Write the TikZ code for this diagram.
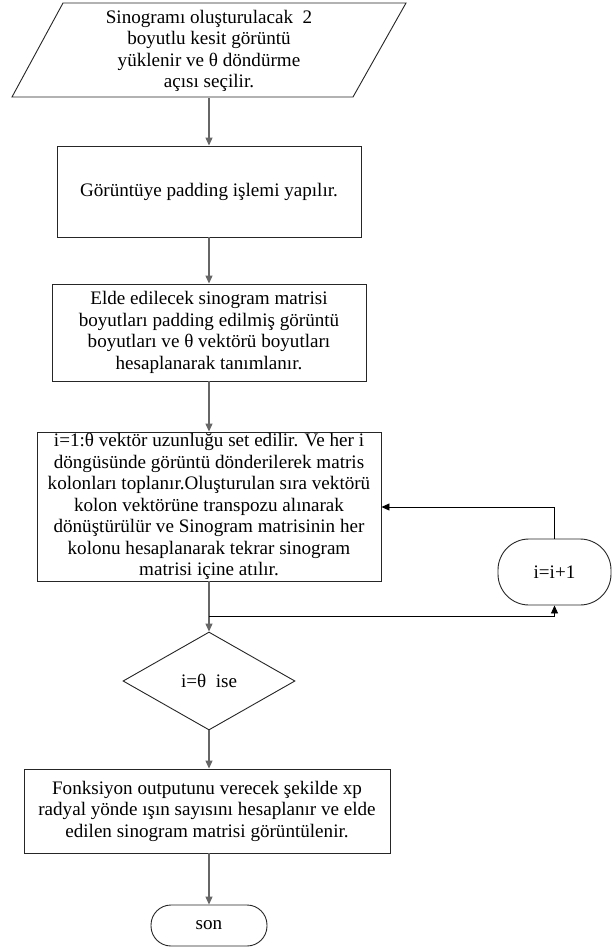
\documentclass[tikz,border=0pt]{standalone}
\usepackage{fontspec}
\setmainfont{Liberation Serif}
\usetikzlibrary{shapes.geometric,arrows.meta,calc}
\begin{document}
\begin{tikzpicture}[x=1pt,y=-1pt,
  txt/.style={font=\fontsize{19.1}{21.5}\selectfont, align=center, inner sep=0pt, text=black},
  procbox/.style={txt, draw=black!85, line width=0.9pt, rectangle},
  decbox/.style={txt, draw=black!85, line width=0.9pt, diamond},
  termbox/.style={txt, draw=black!85, line width=0.9pt, rectangle},
  flow/.style={draw=black!60, line width=1.1pt, -{Triangle[length=8pt,width=7pt]}},
  looparrow/.style={draw=black, line width=0.9pt, -{Triangle[length=8pt,width=7pt]}}]
\useasboundingbox (0,0) rectangle (612,951);
\fill[white] (0,0) rectangle (612,951);

% input parallelogram
\draw[draw=black!85, line width=0.9pt] (63,3) -- (406,3) -- (353,97) -- (12,97) -- cycle;
\node[txt, minimum width=290, minimum height=94] (b1) at (209,51)
  {Sinogramı oluşturulacak\ \ 2\\boyutlu kesit görüntü\\yüklenir ve θ döndürme\\açısı seçilir.};

\node[procbox, minimum width=304, minimum height=91] (b2) at (209,191.5)
  {Görüntüye padding işlemi yapılır.};

\node[procbox, minimum width=314, minimum height=97] (b3) at (209,332.5)
  {Elde edilecek sinogram matrisi\\boyutları padding edilmiş görüntü\\boyutları ve θ vektörü boyutları\\hesaplanarak tanımlanır.};

\node[procbox, minimum width=344, minimum height=149] (b4) at (209,506.5)
  {i=1:θ vektör uzunluğu set edilir. Ve her i\\döngüsünde görüntü dönderilerek matris\\kolonları toplanır.Oluşturulan sıra vektörü\\kolon vektörüne transpozu alınarak\\dönüştürülür ve Sinogram matrisinin her\\kolonu hesaplanarak tekrar sinogram\\matrisi içine atılır.};

\node[termbox, rounded corners=31pt, minimum width=113, minimum height=66] (inc) at (554.5,572)
  {i=i+1};

\node[decbox, minimum width=172, minimum height=98] (d) at (209,681)
  {i=θ\ \ ise};

\node[procbox, minimum width=366, minimum height=84] (b6) at (207,811)
  {Fonksiyon outputunu verecek şekilde xp\\radyal yönde ışın sayısını hesaplanır ve elde\\edilen sinogram matrisi görüntülenir.};

\node[termbox, rounded corners=20pt, minimum width=116, minimum height=41] (son) at (209,925.5)
  {son};

% connectors
\draw[flow] (b1.south) -- (b2.north);
\draw[flow] (b2.south) -- (b3.north);
\draw[flow] (b3.south) -- (b4.north);
\draw[flow] (b4.south) -- (d.north);
\draw[flow] (d.south) -- (d.south |- b6.north);
\draw[flow] (son.north |- b6.south) -- (son.north);

\coordinate (br) at (209,616);
\coordinate (fb) at (470,507);
\draw[looparrow] (br) -- (br -| inc.south) -- (inc.south);
\draw[looparrow] (inc.north) -- (inc.north |- fb) -- (b4.east |- fb);
\end{tikzpicture}
\end{document}
